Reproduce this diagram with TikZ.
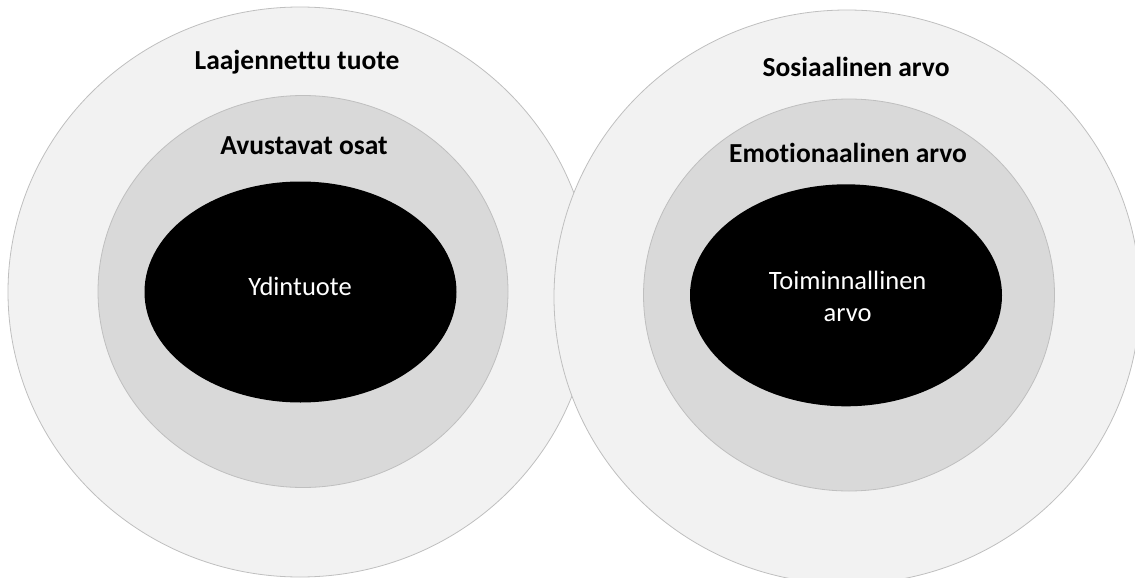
\documentclass[tikz,border=0pt]{standalone}
\usepackage{fontspec}
\setmainfont{Carlito}[Ligatures=NoCommon]
\usetikzlibrary{shapes.geometric}
\definecolor{ringline}{HTML}{BFBFBF}
\definecolor{outerfill}{HTML}{F2F2F2}
\definecolor{midfill}{HTML}{D9D9D9}
\tikzset{
  ring/.style={ellipse, draw=ringline, line width=0.8pt, inner sep=0pt},
  outerring/.style={ring, fill=outerfill},
  midring/.style={ring, fill=midfill},
  core/.style={ellipse, fill=black, draw=none, inner sep=0pt},
  ringlabel/.style={anchor=base, inner sep=0pt, font=\fontsize{27.5}{33}\selectfont\bfseries},
  corelabel/.style={inner sep=0pt, text=white, align=center, font=\fontsize{26.5}{32}\selectfont}
}
\begin{document}
\begin{tikzpicture}[x=1pt, y=-1pt]
\useasboundingbox (0,0) rectangle (1135,578);
% left: product layers
\node[outerring, minimum width=584pt, minimum height=570pt] (prodouter) at (300,292) {};
% right: value layers (drawn over the left one)
\node[outerring, minimum width=586pt, minimum height=574pt] (valouter) at (847,297) {};
\node[midring, minimum width=410pt, minimum height=392pt] (prodmid) at (303,291.5) {};
\node[midring, minimum width=411pt, minimum height=392pt] (valmid) at (849,295) {};
\node[core, minimum width=312pt, minimum height=221pt] (prodcore) at (300.5,292) {};
\node[core, minimum width=312pt, minimum height=222pt] (valcore) at (846,295.3) {};
% labels
\node[ringlabel] (prodouterlbl) at (297,69.3) {Laajennettu tuote};
\node[ringlabel] (prodmidlbl) at (304,154) {Avustavat osat};
\node[ringlabel] (valouterlbl) at (856,76.3) {Sosiaalinen arvo};
\node[ringlabel] (valmidlbl) at (848,162) {Emotionaalinen arvo};
\node[corelabel, anchor=base] (prodcorelbl) at (300,295) {Ydintuote};
\node[corelabel] (valcorelbl) at (847.6,296) {Toiminnallinen\\arvo};
\end{tikzpicture}
\end{document}
